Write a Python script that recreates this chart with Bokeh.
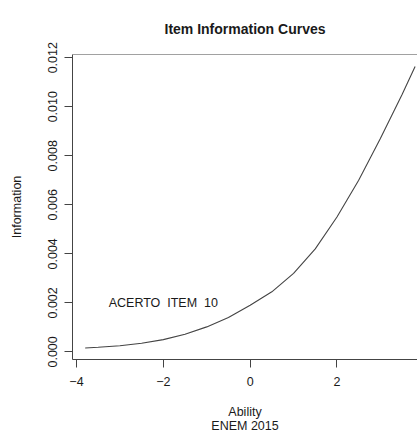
from bokeh.plotting import figure
from bokeh.models import FixedTicker, Span, Range1d, Label
from bokeh.embed import file_html
from bokeh.resources import INLINE

# Data
ability = [-3.8, -3.5, -3.0, -2.5, -2.0, -1.5, -1.0, -0.5, 0.0, 0.5,
           1.0, 1.5, 2.0, 2.5, 3.0, 3.5, 3.8]
information = [0.00016, 0.00019, 0.00025, 0.00035, 0.00050, 0.00072, 0.00102, 0.00140,
               0.00190, 0.00245, 0.00320, 0.00420, 0.00550, 0.00700, 0.00870, 0.01050, 0.01164]
x_ticks = [-4, -2, 0, 2]
y_ticks = [0.000, 0.002, 0.004, 0.006, 0.008, 0.010, 0.012]
y_tick_labels = ["0.000", "0.002", "0.004", "0.006", "0.008", "0.010", "0.012"]
item_label = "ACERTO\u00a0 ITEM\u00a0 10"
title_text = "Item Information Curves"

FONT = "Liberation Sans"
LINE = "#444444"
TEXT = "#1a1a1a"

X0, X1 = -4.092, 3.855
Y0, Y1 = -0.00031, 0.01213

p = figure(width=417, height=436, output_backend="svg", toolbar_location=None,
           x_range=Range1d(X0, X1), y_range=Range1d(Y0, Y1),
           min_border_left=72, min_border_right=0, min_border_top=53, min_border_bottom=74)

p.title.text = title_text
p.title.align = "center"
p.title.text_font = FONT
p.title.text_font_size = "14px"
p.title.text_font_style = "bold"
p.title.text_color = TEXT
p.title.standoff = 36
p.title.offset = 4

p.grid.visible = False
p.outline_line_alpha = 0
p.background_fill_color = "white"
p.border_fill_color = "white"

p.line(ability, information, line_color=LINE, line_width=1.1)

p.add_layout(Label(x=-2, y=0.002, text=item_label, text_font=FONT, text_font_size="12.5px",
                   text_align="center", text_baseline="middle", text_color=TEXT))

# top border of box
p.add_layout(Span(location=Y1, dimension="width", line_color=LINE, line_width=1))

for ax in (p.xaxis[0], p.yaxis[0]):
    ax.axis_line_color = LINE
    ax.major_tick_line_color = LINE
    ax.major_tick_out = 8
    ax.major_tick_in = 0
    ax.minor_tick_line_color = None
    ax.major_label_text_font = FONT
    ax.major_label_text_font_size = "12.5px"
    ax.major_label_text_color = TEXT
    ax.axis_label_text_font = FONT
    ax.axis_label_text_font_size = "12.5px"
    ax.axis_label_text_font_style = "normal"
    ax.axis_label_text_color = TEXT

p.xaxis.ticker = FixedTicker(ticks=x_ticks)
p.xaxis.major_label_standoff = 9
p.xaxis.axis_label = "Ability\nENEM 2015"
p.xaxis.axis_label_standoff = 16
p.xaxis.axis_label_text_line_height = 1.05

p.yaxis.ticker = FixedTicker(ticks=y_ticks)
p.yaxis.major_label_overrides = {t: s for t, s in zip(y_ticks, y_tick_labels)}
p.yaxis.major_label_orientation = "vertical"
p.yaxis.major_label_standoff = 7
p.yaxis.axis_label = "Information"
p.yaxis.axis_label_standoff = 22

open("out.html", "w").write(file_html(p, INLINE))
